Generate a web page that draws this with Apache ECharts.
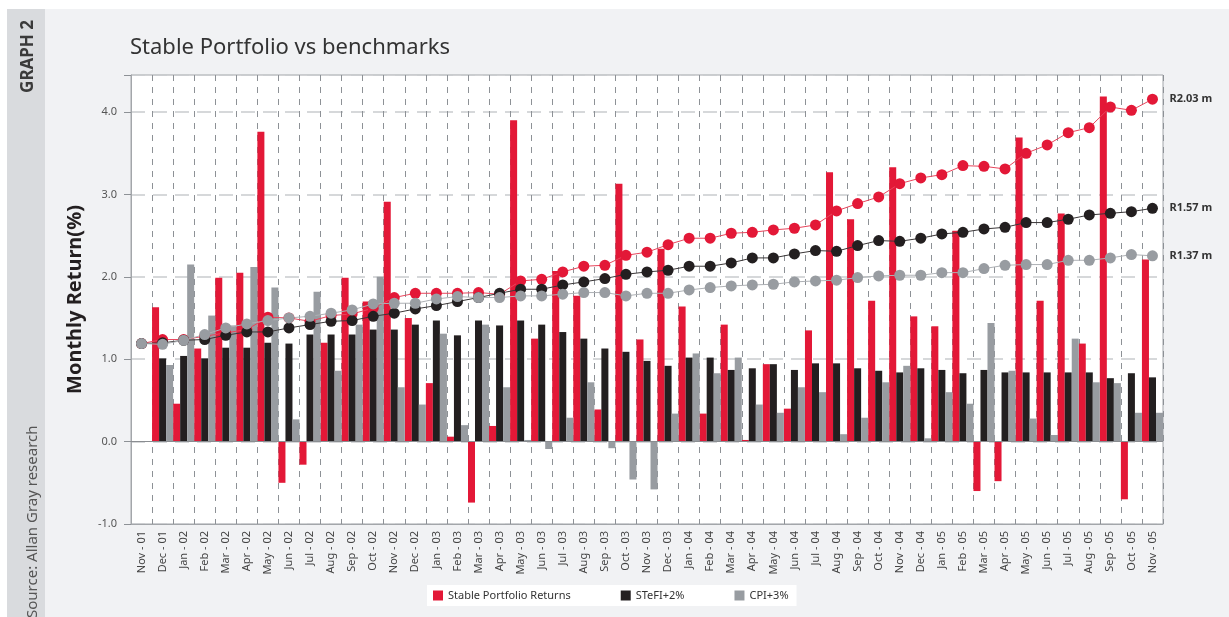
<!DOCTYPE html>
<html>
<head>
<meta charset="utf-8">
<script src="https://cdn.jsdelivr.net/npm/echarts@6/dist/echarts.min.js"></script>
<style>
  html, body { margin: 0; padding: 0; background: #f1f2f4; }
  #chart { width: 1229px; height: 617px; }
</style>
</head>
<body>
<div id="chart"></div>
<script>
// months, Nov 2001 .. Nov 2005
const months = [
  'Nov - 01', 'Dec - 01', 'Jan - 02', 'Feb - 02', 'Mar - 02', 'Apr - 02', 'May - 02', 'Jun - 02', 'Jul - 02', 'Aug - 02', 'Sep - 02', 'Oct - 02',
  'Nov - 02', 'Dec - 02', 'Jan - 03', 'Feb - 03', 'Mar - 03', 'Apr - 03', 'May - 03', 'Jun - 03', 'Jul - 03', 'Aug - 03', 'Sep - 03', 'Oct - 03',
  'Nov - 03', 'Dec - 03', 'Jan - 04', 'Feb - 04', 'Mar - 04', 'Apr - 04', 'May - 04', 'Jun - 04', 'Jul - 04', 'Aug - 04', 'Sep - 04', 'Oct - 04',
  'Nov - 04', 'Dec - 04', 'Jan - 05', 'Feb - 05', 'Mar - 05', 'Apr - 05', 'May - 05', 'Jun - 05', 'Jul - 05', 'Aug - 05', 'Sep - 05', 'Oct - 05',
  'Nov - 05'
]

// monthly returns (%)
const stableReturns = [
  null, 1.63, 0.46, 1.13, 1.99, 2.05, 3.76, -0.50, -0.28, 1.20, 1.99, 1.70,
  2.91, 1.50, 0.71, 0.06, -0.74, 0.19, 3.90, 1.25, 2.07, 1.77, 0.39, 3.13,
  1.24, 2.34, 1.64, 0.34, 1.42, 0.02, 0.94, 0.40, 1.35, 3.27, 2.70, 1.71,
  3.33, 1.52, 1.40, 2.56, -0.60, -0.48, 3.69, 1.71, 2.77, 1.19, 4.19, -0.70,
  2.21
]
const stefiReturns = [
  null, 1.01, 1.04, 1.01, 1.14, 1.14, 1.20, 1.19, 1.30, 1.30, 1.30, 1.36,
  1.36, 1.42, 1.47, 1.29, 1.47, 1.41, 1.47, 1.42, 1.33, 1.25, 1.13, 1.09,
  0.98, 0.92, 1.02, 1.02, 0.87, 0.89, 0.94, 0.87, 0.95, 0.95, 0.89, 0.86,
  0.84, 0.89, 0.87, 0.83, 0.87, 0.84, 0.84, 0.84, 0.84, 0.84, 0.77, 0.83,
  0.78
]
const cpiReturns = [
  null, 0.93, 2.15, 1.53, 1.41, 2.12, 1.87, 0.27, 1.82, 0.86, 1.42, 2.00,
  0.66, 0.45, 1.31, 0.20, 1.42, 0.66, 0.02, -0.09, 0.29, 0.72, -0.08, -0.46,
  -0.58, 0.34, 1.07, 0.83, 1.02, 0.45, 0.35, 0.66, 0.60, 0.09, 0.29, 0.72,
  0.92, 0.04, 0.60, 0.46, 1.44, 0.86, 0.28, 0.08, 1.25, 0.72, 0.71, 0.35,
  0.35
]

// growth of R1 m (R millions)
const stableGrowth = [
  1.000, 1.017, 1.017, 1.031, 1.045, 1.059, 1.111, 1.108, 1.094, 1.118, 1.125, 1.149,
  1.194, 1.212, 1.212, 1.212, 1.215, 1.208, 1.264, 1.271, 1.302, 1.326, 1.330, 1.372,
  1.385, 1.417, 1.444, 1.444, 1.465, 1.469, 1.479, 1.486, 1.500, 1.559, 1.590, 1.618,
  1.674, 1.698, 1.712, 1.750, 1.747, 1.736, 1.802, 1.837, 1.889, 1.910, 1.997, 1.983,
  2.03
]
const stefiGrowth = [
  1.000, 1.003, 1.014, 1.017, 1.035, 1.049, 1.049, 1.066, 1.080, 1.094, 1.097, 1.115,
  1.128, 1.146, 1.160, 1.177, 1.194, 1.212, 1.229, 1.229, 1.247, 1.260, 1.274, 1.292,
  1.302, 1.309, 1.326, 1.326, 1.340, 1.361, 1.361, 1.378, 1.392, 1.389, 1.413, 1.434,
  1.431, 1.444, 1.462, 1.469, 1.483, 1.490, 1.510, 1.510, 1.524, 1.542, 1.549, 1.556,
  1.57
]
const cpiGrowth = [
  1.000, 0.997, 1.014, 1.038, 1.066, 1.083, 1.097, 1.108, 1.115, 1.128, 1.142, 1.167,
  1.170, 1.170, 1.188, 1.198, 1.194, 1.194, 1.201, 1.201, 1.208, 1.215, 1.215, 1.201,
  1.212, 1.212, 1.226, 1.236, 1.243, 1.247, 1.250, 1.260, 1.264, 1.267, 1.278, 1.285,
  1.288, 1.288, 1.299, 1.299, 1.316, 1.330, 1.333, 1.333, 1.351, 1.351, 1.361, 1.375,
  1.37
]

const RED = '#e31837'
const BLACK = '#231f20'
const GREY = '#989ca1'
const FONT = 'Noto Sans'

const chart = echarts.init(document.getElementById('chart'))

function growthLine(name, data, color, lineColor) {
  return {
    name: name,
    type: 'line',
    yAxisIndex: 1,
    data: data,
    z: 5,
    symbol: 'circle',
    symbolSize: 11,
    itemStyle: { color: color },
    lineStyle: { color: lineColor, width: 1 },
    endLabel: {
      show: true,
      distance: 17,
      formatter: p => 'R' + p.value.toFixed(2) + ' m',
      fontFamily: FONT,
      fontSize: 11,
      fontWeight: 'bold',
      color: '#333'
    }
  }
}

const option = {
  animation: false,
  backgroundColor: '#f1f2f4',
  textStyle: { fontFamily: FONT },
  graphic: [
    { type: 'rect', left: 0, top: 0, shape: { width: 1229, height: 9 }, style: { fill: '#fff' } },
    { type: 'rect', left: 0, top: 9, shape: { width: 7, height: 608 }, style: { fill: '#fff' } },
    { type: 'rect', left: 7, top: 9, shape: { width: 38, height: 608 }, style: { fill: '#d9dbde' } },
    {
      type: 'text', x: 28, y: 20, rotation: Math.PI / 2,
      style: { text: 'GRAPH 2', font: 'bold 17px "Noto Sans"', fill: '#3a3a3a', align: 'right', verticalAlign: 'middle' }
    },
    {
      type: 'text', x: 33, y: 618, rotation: Math.PI / 2,
      style: { text: 'Source: Allan Gray research', font: '15px "Noto Sans"', fill: '#555', align: 'left', verticalAlign: 'middle' }
    }
  ],
  title: {
    text: 'Stable Portfolio vs benchmarks',
    left: 125,
    top: 32,
    textStyle: { fontFamily: FONT, fontSize: 22, fontWeight: 'normal', color: '#333' }
  },
  legend: {
    left: 427,
    top: 585,
    data: ['Stable Portfolio Returns', 'STeFI+2%', 'CPI+3%'],
    backgroundColor: '#fff',
    padding: [5, 8, 5, 6],
    itemGap: 50,
    itemWidth: 10,
    itemHeight: 10,
    icon: 'rect',
    textStyle: { fontFamily: FONT, fontSize: 11, color: '#333' }
  },
  grid: {
    left: 131,
    right: 66,
    top: 75,
    bottom: 93,
    show: true,
    backgroundColor: '#fff',
    borderColor: '#a3a6aa',
    borderWidth: 1
  },
  xAxis: {
    type: 'category',
    data: months,
    boundaryGap: true,
    axisLine: { onZero: false, lineStyle: { color: '#a3a6aa' } },
    axisTick: { show: false },
    axisLabel: { interval: 0, rotate: 90, fontFamily: FONT, fontSize: 11, color: '#444', margin: 7 },
    splitLine: { show: true, interval: 0, lineStyle: { color: '#8d9196', type: [6, 6], width: 1 } }
  },
  yAxis: [
    {
      type: 'value',
      min: -1,
      max: 4.45,
      interval: 1,
      name: 'Monthly Return(%)',
      nameLocation: 'middle',
      nameGap: 46,
      nameTextStyle: { fontFamily: FONT, fontSize: 20, fontWeight: 'bold', color: '#231f20' },
      axisLine: { show: true, lineStyle: { color: '#a3a6aa' } },
      axisTick: { show: true, length: 7, lineStyle: { color: '#8d9196' } },
      axisLabel: {
        fontFamily: FONT, fontSize: 11, color: '#555', margin: 14,
        formatter: v => (Math.abs(v - Math.round(v)) < 1e-6 ? v.toFixed(1) : '')
      },
      splitLine: { show: true, lineStyle: { color: '#c9cbce', type: [14, 8], width: 1.5 } }
    },
    {
      type: 'value',
      min: 0.2396,
      max: 2.1319,
      show: false,
      splitLine: { show: false }
    }
  ],
  series: [
    {
      name: 'Stable Portfolio Returns',
      type: 'bar',
      data: stableReturns,
      barGap: '0%',
      barCategoryGap: '0%',
      itemStyle: { color: RED },
      markLine: {
        silent: true,
        symbol: 'none',
        label: { show: false },
        lineStyle: { color: '#8a8d91', type: 'solid', width: 1 },
        data: [{ yAxis: 0 }]
      }
    },
    {
      name: 'STeFI+2%',
      type: 'bar',
      data: stefiReturns,
      barGap: '0%',
      barCategoryGap: '0%',
      itemStyle: { color: BLACK }
    },
    {
      name: 'CPI+3%',
      type: 'bar',
      data: cpiReturns,
      barGap: '0%',
      barCategoryGap: '0%',
      itemStyle: { color: GREY }
    },
    growthLine('Stable growth', stableGrowth, RED, '#e8455c'),
    growthLine('STeFI growth', stefiGrowth, BLACK, '#3a3637'),
    growthLine('CPI growth', cpiGrowth, GREY, '#aeb1b5')
  ]
}

chart.setOption(option)
</script>
</body>
</html>
